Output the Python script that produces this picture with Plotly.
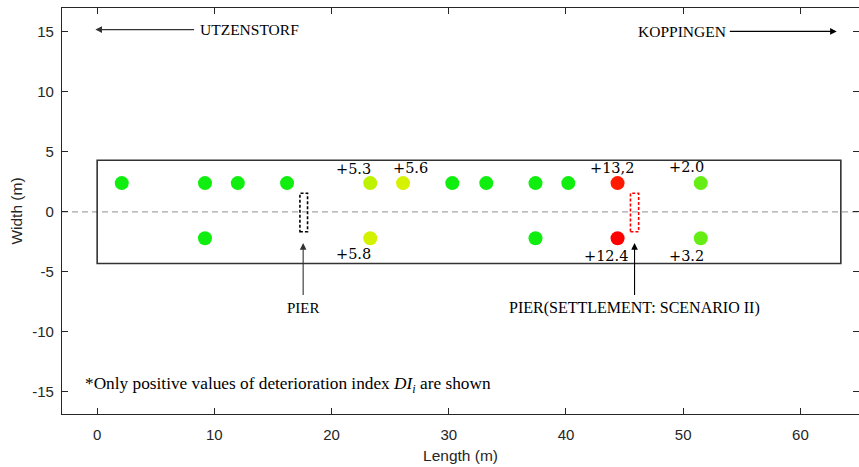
import plotly.graph_objects as go

# ---------------- data ----------------
sensor_x = [2.1, 9.2, 12.0, 16.2, 23.3, 26.1, 30.3, 33.2, 37.4, 40.2, 44.4, 51.5,
            9.2, 23.3, 37.4, 44.4, 51.5]
sensor_y = [2.4, 2.4, 2.4, 2.4, 2.4, 2.4, 2.4, 2.4, 2.4, 2.4, 2.4, 2.4,
            -2.2, -2.2, -2.2, -2.2, -2.2]
di_labels = ["", "", "", "", "+5.3", "+5.6", "", "", "", "", "+13,2", "+2.0",
             "", "+5.8", "", "+12.4", "+3.2"]

deck_x = [0, 63.45]
deck_y = [-4.3, 4.3]

pier_x = [17.3, 17.95]
pier_settle_x = [45.5, 46.2]
pier_y = [-1.65, 1.55]

x_ticks = [0, 10, 20, 30, 40, 50, 60]
x_ticklabels = ["0", "10", "20", "30", "40", "50", "60"]
y_ticks = [-15, -10, -5, 0, 5, 10, 15]
y_ticklabels = ["-15", "-10", "-5", "0", "5", "10", "15"]

# ---------------- styles ----------------
G = "#10ee10"
sensor_colors = [G, G, G, G, "#bdf200", "#d6f200", G, G, G, G, "#ff1a00", "#66ee14",
                 G, "#d4f200", G, "#ff0000", "#66ee14"]
# label pixel offsets (dx right, dy down) for labelled sensors
label_dx = [0, 0, 0, 0, -17, 7, 0, 0, 0, 0, -6, -14, 0, -17, 0, -12, -14]
label_dy = [0, 0, 0, 0, -14, -15, 0, 0, 0, 0, -15, -16, 0, 16, 0, 18, 18]

AX = "#262626"
SERIF = "Liberation Serif, Times New Roman, serif"
SANS = "Liberation Sans, Arial"

fig = go.Figure()

# centre line
fig.add_shape(type="line", x0=-3, x1=65, y0=0, y1=0, xref="x", yref="y",
              line=dict(color="#a6a6a6", width=1.3, dash="6px,4px"), layer="below")
# deck outline
fig.add_shape(type="rect", x0=deck_x[0], x1=deck_x[1], y0=deck_y[0], y1=deck_y[1],
              line=dict(color="#333333", width=1.6))
# piers
fig.add_shape(type="rect", x0=pier_x[0], x1=pier_x[1], y0=pier_y[0], y1=pier_y[1],
              line=dict(color="black", width=1.6, dash="3px,2px"))
fig.add_shape(type="rect", x0=pier_settle_x[0], x1=pier_settle_x[1], y0=pier_y[0], y1=pier_y[1],
              line=dict(color="#ff0000", width=1.6, dash="3px,2px"))

fig.add_trace(go.Scatter(
    x=sensor_x, y=sensor_y, mode="markers",
    marker=dict(size=14, color=sensor_colors, line=dict(width=0)),
    showlegend=False, hoverinfo="skip"))

annotations = []
for x, y, t, dx, dy in zip(sensor_x, sensor_y, di_labels, label_dx, label_dy):
    if t:
        annotations.append(dict(x=x, y=y, xref="x", yref="y", text=t, showarrow=False,
                                xshift=dx, yshift=-dy,
                                font=dict(family="DejaVu Serif", size=14.5, color="black")))

# direction arrows
annotations.append(dict(x=-0.15, y=15.2, ax=8.4, ay=15.2, xref="x", yref="y", axref="x", ayref="y",
                        text="", showarrow=True, arrowhead=2, arrowsize=1.2, arrowwidth=1.1,
                        arrowcolor="#333333"))
annotations.append(dict(x=8.6, y=15.2, xref="x", yref="y", text="UTZENSTORF", showarrow=False,
                        xanchor="left", font=dict(family=SERIF, size=15.5, color="black")))
annotations.append(dict(x=63.1, y=15.05, ax=53.85, ay=15.05, xref="x", yref="y", axref="x", ayref="y",
                        text="", showarrow=True, arrowhead=2, arrowsize=1.2, arrowwidth=1.1,
                        arrowcolor="black"))
annotations.append(dict(x=53.85, y=15.05, xref="x", yref="y", text="KOPPINGEN", showarrow=False,
                        xanchor="right", font=dict(family=SERIF, size=15.5, color="black")))

# pier arrows
for px, col, lab, fs in [(sum(pier_x) / 2 - 0.05, "#333333", "PIER", 15),
                         (sum(pier_settle_x) / 2, "black", "PIER(SETTLEMENT: SCENARIO II)", 16)]:
    annotations.append(dict(x=px, y=-2.6, ax=px, ay=-7.05, xref="x", yref="y", axref="x", ayref="y",
                            text="", showarrow=True, arrowhead=2, arrowsize=1.2, arrowwidth=1.1,
                            arrowcolor=col))
    annotations.append(dict(x=px, y=-8.05, xref="x", yref="y", text=lab, showarrow=False,
                            font=dict(family=SERIF, size=fs, color="black")))

annotations.append(dict(x=-1.2, y=-14.4, xref="x", yref="y", xanchor="left", showarrow=False,
                        text="*Only positive values of deterioration index <i>DI</i><sub><i>i</i></sub> are shown",
                        font=dict(family=SERIF, size=17.3, color="black")))

axis_common = dict(showline=True, linecolor=AX, linewidth=1.2, mirror="ticks",
                   ticks="inside", ticklen=6, tickcolor=AX, tickwidth=1,
                   showgrid=False, zeroline=False, automargin=False,
                   tickfont=dict(family=SANS, size=15, color=AX))

fig.update_xaxes(range=[-3, 65], tickvals=x_ticks, ticktext=x_ticklabels,
                 title=dict(text="Length (m)", standoff=8,
                            font=dict(family=SANS, size=15.5, color=AX)),
                 ticklabelstandoff=7, **axis_common)
fig.update_yaxes(range=[-16.85, 17.0], tickvals=y_ticks, ticktext=y_ticklabels,
                 title=dict(text="Width (m)", standoff=5,
                            font=dict(family=SANS, size=15.5, color=AX)),
                 ticklabelstandoff=4, **axis_common)

fig.update_layout(width=859, height=467, margin=dict(l=62, r=0, t=8, b=53),
                  plot_bgcolor="white", paper_bgcolor="white",
                  annotations=annotations, showlegend=False)

fig.write_html("out.html", config={"displayModeBar": False},
               post_script="document.body.style.margin='0';document.body.style.overflow='hidden';")
